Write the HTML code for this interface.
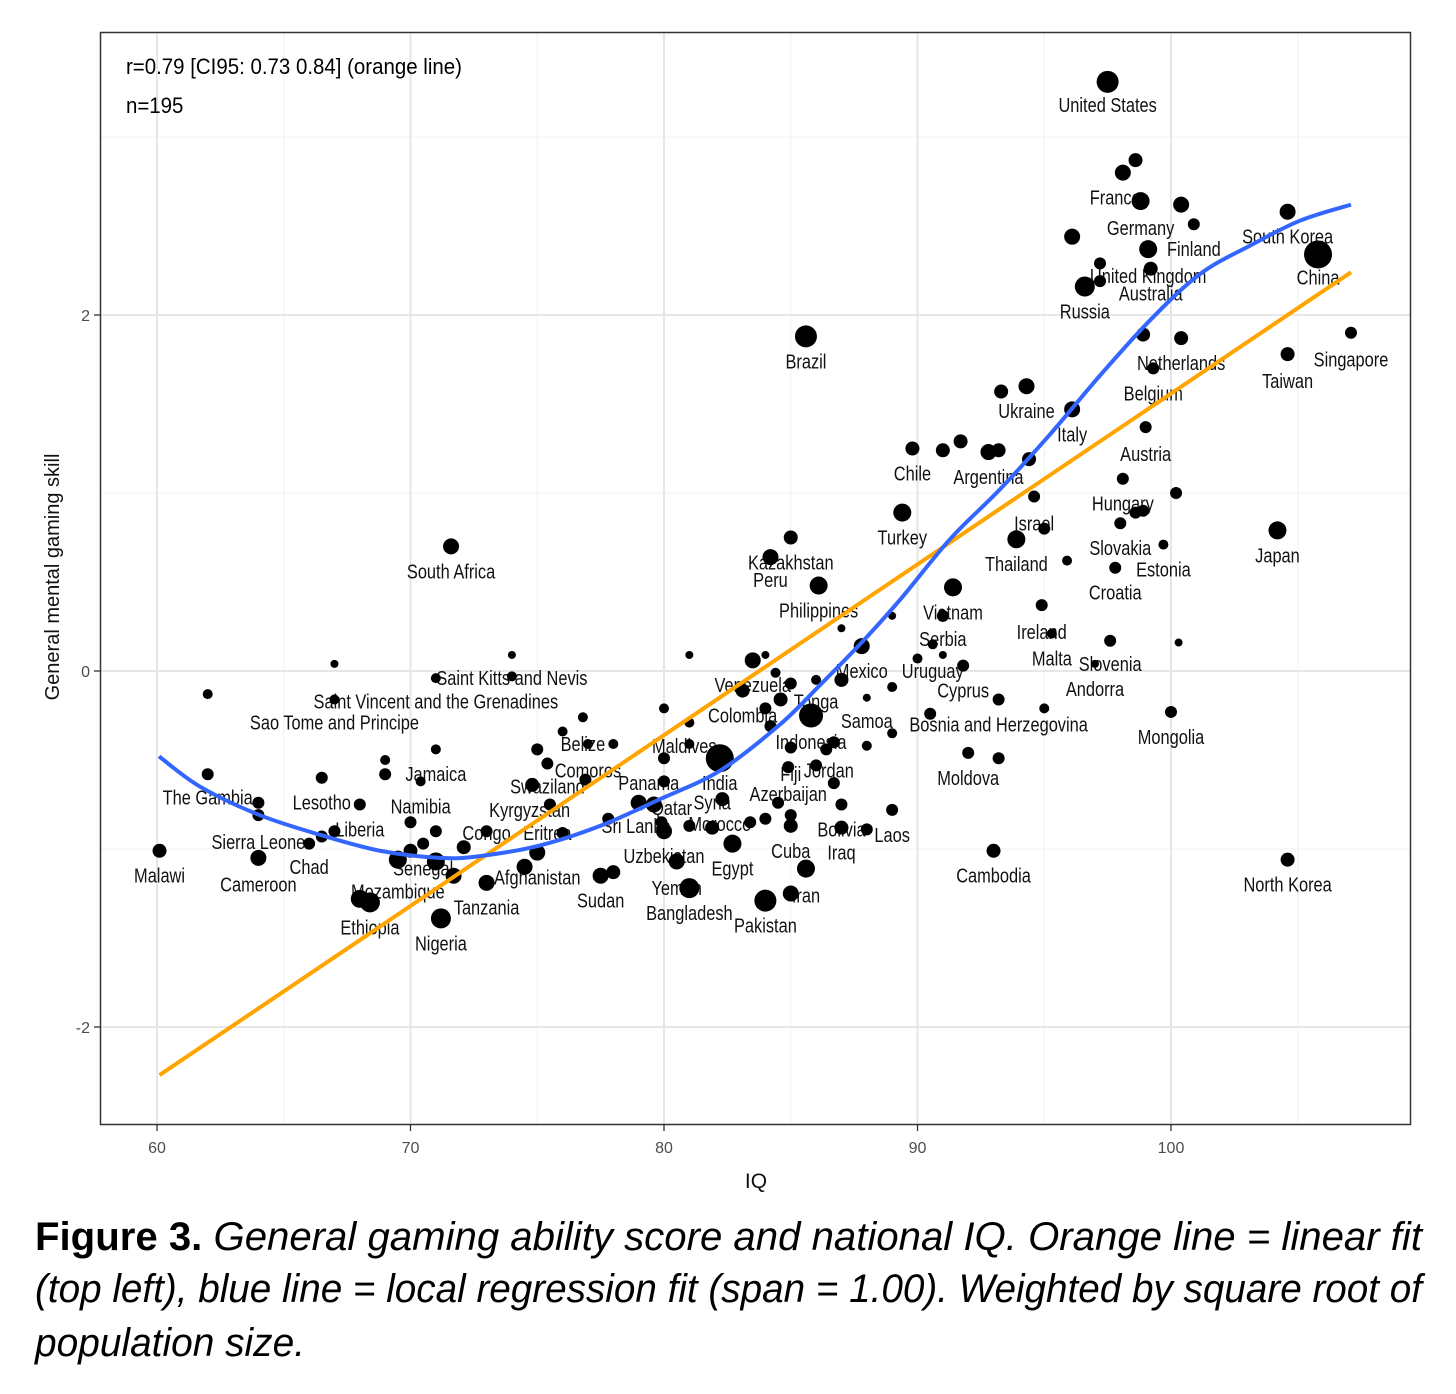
<!DOCTYPE html>
<html><head><meta charset="utf-8">
<style>
html,body{margin:0;padding:0;background:#fff;}
svg{display:block;}
text{font-family:"Liberation Sans",sans-serif;}
</style></head>
<body>
<svg id="chart" width="1456" height="1394" viewBox="0 0 1456 1394" xmlns="http://www.w3.org/2000/svg">
<rect x="0" y="0" width="1456" height="1394" fill="#fff"/>
<g id="grid"></g>
<g id="labels"></g>
<g id="points"></g>
<g id="lines"></g>
<rect x="100.5" y="32.5" width="1310" height="1092" fill="none" stroke="#333" stroke-width="1.5"/>
<g id="axes"></g>
<text x="126" y="74" font-size="22" transform="translate(126,74) scale(0.93,1) translate(-126,-74)">r=0.79 [CI95: 0.73 0.84] (orange line)</text>
<text x="126" y="113" font-size="22" transform="translate(126,113) scale(0.93,1) translate(-126,-113)">n=195</text>
<text x="0" y="0" font-size="20" text-anchor="middle" transform="translate(59,577) rotate(-90)" fill="#111">General mental gaming skill</text>
<text x="756" y="1188" font-size="21" text-anchor="middle" fill="#111">IQ</text>
<text x="35" y="1250" font-size="40" textLength="1387" lengthAdjust="spacingAndGlyphs"><tspan font-weight="bold">Figure 3.</tspan><tspan font-style="italic">  General gaming ability score and national IQ. Orange line = linear fit</tspan></text>
<text x="35" y="1302" font-size="40" font-style="italic" textLength="1387" lengthAdjust="spacingAndGlyphs">(top left), blue line = local regression fit (span = 1.00). Weighted by square root of</text>
<text x="35" y="1356" font-size="40" font-style="italic" textLength="270" lengthAdjust="spacingAndGlyphs">population size.</text>
</svg>
<script>
const xTicks=[60,70,80,90,100];
const yTicks=[-2,0,2];
const xMinor=[65,75,85,95,105];
const yMinor=[-1,1,3];
const iq=[97.5,98.6,98.1,98.8,100.4,100.9,96.1,99.1,97.2,99.2,97.2,96.6,104.6,105.8,107.1,104.6,98.9,100.4,99.3,85.6,93.3,94.3,96.1,99.0,89.8,91.0,91.7,92.8,93.2,94.4,98.1,100.2,94.6,89.4,98.6,98.9,95.0,98.0,93.9,99.7,104.2,97.8,95.9,84.2,85.0,86.1,91.4,71.6,91.0,94.9,95.3,97.6,100.3,87.8,90.6,91.8,93.2,97.0,100.0,95.0,90.5,92.0,93.2,93.0,104.6,89.0,87.0,88.0,87.0,85.0,85.6,85.0,84.0,81.0,80.5,82.7,80.0,77.5,78.0,82.2,85.8,83.1,83.5,86.0,84.9,84.5,81.9,82.3,79.6,79.0,77.8,80.0,77.0,76.9,74.8,75.5,76.0,73.0,74.5,75.0,73.0,71.2,68.4,68.0,69.5,70.0,71.0,71.7,72.1,71.0,70.5,70.0,70.4,71.0,68.0,67.0,66.0,66.5,64.0,64.0,64.0,60.1,62.0,62.0,66.5,69.0,69.0,67.0,67.0,71.0,74.0,74.0,75.0,75.4,76.0,76.8,78.0,80.0,81.0,81.0,81.0,80.0,84.0,84.4,84.0,84.6,85.0,84.2,85.0,86.4,86.7,86.7,86.0,87.0,88.0,88.0,89.0,89.0,89.0,90.0,91.0,87.0,83.4,84.0,85.0,81.0,79.9];
const skill=[3.31,2.87,2.80,2.64,2.62,2.51,2.44,2.37,2.29,2.26,2.19,2.16,2.58,2.34,1.90,1.78,1.89,1.87,1.70,1.88,1.57,1.60,1.47,1.37,1.25,1.24,1.29,1.23,1.24,1.19,1.08,1.00,0.98,0.89,0.89,0.90,0.80,0.83,0.74,0.71,0.79,0.58,0.62,0.64,0.75,0.48,0.47,0.70,0.31,0.37,0.21,0.17,0.16,0.14,0.15,0.03,-0.16,0.04,-0.23,-0.21,-0.24,-0.46,-0.49,-1.01,-1.06,-0.78,-0.88,-0.89,-0.75,-0.87,-1.11,-1.25,-1.29,-1.22,-1.07,-0.97,-0.90,-1.15,-1.13,-0.49,-0.25,-0.11,0.06,-0.53,-0.54,-0.74,-0.88,-0.72,-0.75,-0.74,-0.83,-0.49,-0.41,-0.61,-0.64,-0.75,-0.91,-0.90,-1.10,-1.02,-1.19,-1.39,-1.30,-1.28,-1.06,-1.01,-1.07,-1.15,-0.99,-0.90,-0.97,-0.85,-0.62,-0.44,-0.75,-0.90,-0.97,-0.93,-0.81,-0.74,-1.05,-1.01,-0.58,-0.13,-0.60,-0.50,-0.58,0.04,-0.16,-0.04,0.09,-0.03,-0.44,-0.52,-0.34,-0.26,-0.41,-0.21,0.09,-0.29,-0.41,-0.62,0.09,-0.01,-0.21,-0.16,-0.07,-0.31,-0.43,-0.44,-0.40,-0.63,-0.05,0.24,-0.15,-0.42,-0.35,-0.09,0.31,0.07,0.09,-0.05,-0.85,-0.83,-0.81,-0.87,-0.85];
const popWeight=[11,7,8,9,8,6,8,9,6,7,6,10,8,14,6,7,7,7,6,11,7,8,8,6,7,7,7,8,7,7,6,6,6,9,6,6,6,6,9,5,9,6,5,8,7,9,9,8,6,6,5,6,4,8,5,6,6,4,6,5,6,6,6,7,7,6,7,6,6,7,9,8,11,10,8,9,8,8,7,14,12,7,8,6,6,6,7,7,8,8,6,6,5,6,7,6,6,6,8,8,8,10,10,9,9,7,9,8,7,6,6,6,5,5,6,6,6,6,6,6,8,7,6,5,6,5,6,4,5,5,4,5,6,6,5,5,5,5,4,5,5,6,4,5,6,7,6,6,6,6,6,6,5,4,4,5,5,5,4,5,4,7,6,6,6,6,6];
const labelNames=["United States","France","Germany","Finland","South Korea","United Kingdom","China","Australia","Russia","Brazil","Netherlands","Singapore","Taiwan","Belgium","Ukraine","Italy","Austria","Chile","Argentina","Hungary","Israel","Turkey","Slovakia","Japan","Kazakhstan","Thailand","Estonia","South Africa","Peru","Croatia","Philippines","Vietnam","Ireland","Serbia","Malta","Slovenia","Mexico","Uruguay","Saint Kitts and Nevis","Venezuela","Andorra","Cyprus","Saint Vincent and the Grenadines","Tonga","Colombia","Samoa","Sao Tome and Principe","Bosnia and Herzegovina","Mongolia","Indonesia","Belize","Maldives","Comoros","Jordan","Jamaica","Fiji","Moldova","Panama","India","Swaziland","Azerbaijan","The Gambia","Lesotho","Syria","Namibia","Qatar","Kyrgyzstan","Morocco","Sri Lanka","Bolivia","Liberia","Congo","Eritrea","Laos","Sierra Leone","Cuba","Iraq","Uzbekistan","Chad","Egypt","Senegal","Malawi","Cambodia","Afghanistan","Cameroon","North Korea","Yemen","Mozambique","Iran","Sudan","Tanzania","Bangladesh","Pakistan","Ethiopia","Nigeria"];
const labelIq=[97.5,97.8,98.8,100.9,104.6,99.1,105.8,99.2,96.6,85.6,100.4,107.1,104.6,99.3,94.3,96.1,99.0,89.8,92.8,98.1,94.6,89.4,98.0,104.2,85.0,93.9,99.7,71.6,84.2,97.8,86.1,91.4,94.9,91.0,95.3,97.6,87.8,90.6,74.0,83.5,97.0,91.8,71.0,86.0,83.1,88.0,67.0,93.2,100.0,85.8,76.8,80.8,77.0,86.5,71.0,85.0,92.0,79.4,82.2,75.4,84.9,62.0,66.5,81.9,70.4,80.3,74.7,82.2,78.9,87.0,68.0,73.0,75.4,89.0,64.0,85.0,87.0,80.0,66.0,82.7,70.5,60.1,93.0,75.0,64.0,104.6,80.5,69.5,85.6,77.5,73.0,81.0,84.0,68.4,71.2];
const labelSkill=[3.18,2.66,2.49,2.37,2.44,2.22,2.21,2.12,2.02,1.74,1.73,1.75,1.63,1.56,1.46,1.33,1.22,1.11,1.09,0.94,0.83,0.75,0.69,0.65,0.61,0.60,0.57,0.56,0.51,0.44,0.34,0.33,0.22,0.18,0.07,0.04,0.00,0.00,-0.04,-0.08,-0.10,-0.11,-0.17,-0.17,-0.25,-0.28,-0.29,-0.30,-0.37,-0.40,-0.41,-0.42,-0.56,-0.56,-0.58,-0.58,-0.60,-0.63,-0.63,-0.65,-0.69,-0.71,-0.74,-0.74,-0.76,-0.77,-0.78,-0.86,-0.87,-0.89,-0.89,-0.91,-0.91,-0.92,-0.96,-1.01,-1.02,-1.04,-1.10,-1.11,-1.11,-1.15,-1.15,-1.16,-1.20,-1.20,-1.22,-1.24,-1.26,-1.29,-1.33,-1.36,-1.43,-1.44,-1.53];
const linearIq=[60.1,107.1];
const linearSkill=[-2.27,2.24];
const loessIq=[60.08,61.70,64.06,66.43,68.80,71.16,72.74,75.11,77.48,79.84,82.21,84.58,86.15,87.73,89.31,91.28,93.25,95.23,97.20,99.17,101.14,103.12,105.09,107.10];
const loessSkill=[-0.48,-0.65,-0.81,-0.92,-1.01,-1.05,-1.04,-0.98,-0.87,-0.72,-0.56,-0.30,-0.08,0.15,0.40,0.74,1.02,1.33,1.66,1.97,2.23,2.39,2.53,2.62];

const NS="http://www.w3.org/2000/svg";
const X=v=>157+(v-60)*25.35;
const Y=v=>671-v*178;
function mk(tag,attrs,parent){const e=document.createElementNS(NS,tag);for(const k in attrs)e.setAttribute(k,attrs[k]);parent.appendChild(e);return e;}
const grid=document.getElementById('grid'),axes=document.getElementById('axes');
xMinor.forEach(v=>{const l=mk('line',{x1:X(v),x2:X(v),y1:33,y2:1124,stroke:'#f0f0f0','stroke-width':1},grid);

});
yMinor.forEach(v=>{const l=mk('line',{x1:101,x2:1410,y1:Y(v),y2:Y(v),stroke:'#f0f0f0','stroke-width':1},grid);

});
xTicks.forEach(v=>{const l=mk('line',{x1:X(v),x2:X(v),y1:33,y2:1124,stroke:'#e6e6e6','stroke-width':2},grid);


const t=mk('line',{x1:X(v),x2:X(v),y1:1125,y2:1131,stroke:'#333','stroke-width':1.3},axes);


const tx=mk('text',{x:X(v),y:1153,'font-size':16,'text-anchor':'middle',fill:'#4d4d4d'},axes);tx.textContent=v;

});
yTicks.forEach(v=>{const l=mk('line',{x1:101,x2:1410,y1:Y(v),y2:Y(v),stroke:'#e6e6e6','stroke-width':2},grid);


const t=mk('line',{x1:94,x2:100,y1:Y(v),y2:Y(v),stroke:'#333','stroke-width':1.3},axes);


const tx=mk('text',{x:90,y:Y(v)+6,'font-size':16,'text-anchor':'end',fill:'#4d4d4d'},axes);tx.textContent=v;

});
const lg=document.getElementById('labels');
labelNames.forEach((n,i)=>{const x=X(labelIq[i]),y=Y(labelSkill[i])+7;
const t=mk('text',{x:0,y:0,'font-size':20,'text-anchor':'middle',fill:'#111',transform:`translate(${x},${y}) scale(0.82,1)`},lg);t.textContent=n;

});
const pg=document.getElementById('points');
iq.forEach((v,i)=>{const c=mk('circle',{cx:X(v),cy:Y(skill[i]),r:popWeight[i],fill:'#000'},pg);

});
const lnG=document.getElementById('lines');
const lin=mk('line',{x1:X(linearIq[0]),y1:Y(linearSkill[0]),x2:X(linearIq[1]),y2:Y(linearSkill[1]),stroke:'#FFA500','stroke-width':4},lnG);


const P=loessIq.map((v,i)=>[X(v),Y(loessSkill[i])]);
let d='M'+P[0][0].toFixed(1)+','+P[0][1].toFixed(1);
for(let i=0;i<P.length-1;i++){const p0=P[Math.max(0,i-1)],p1=P[i],p2=P[i+1],p3=P[Math.min(P.length-1,i+2)];
const c1=[p1[0]+(p2[0]-p0[0])/6,p1[1]+(p2[1]-p0[1])/6],c2=[p2[0]-(p3[0]-p1[0])/6,p2[1]-(p3[1]-p1[1])/6];
d+=` C${c1[0].toFixed(1)},${c1[1].toFixed(1)} ${c2[0].toFixed(1)},${c2[1].toFixed(1)} ${p2[0].toFixed(1)},${p2[1].toFixed(1)}`;}
const lo=mk('path',{d:d,fill:'none',stroke:'#3366FF','stroke-width':4,'stroke-linejoin':'round'},lnG);


</script>
</body></html>
